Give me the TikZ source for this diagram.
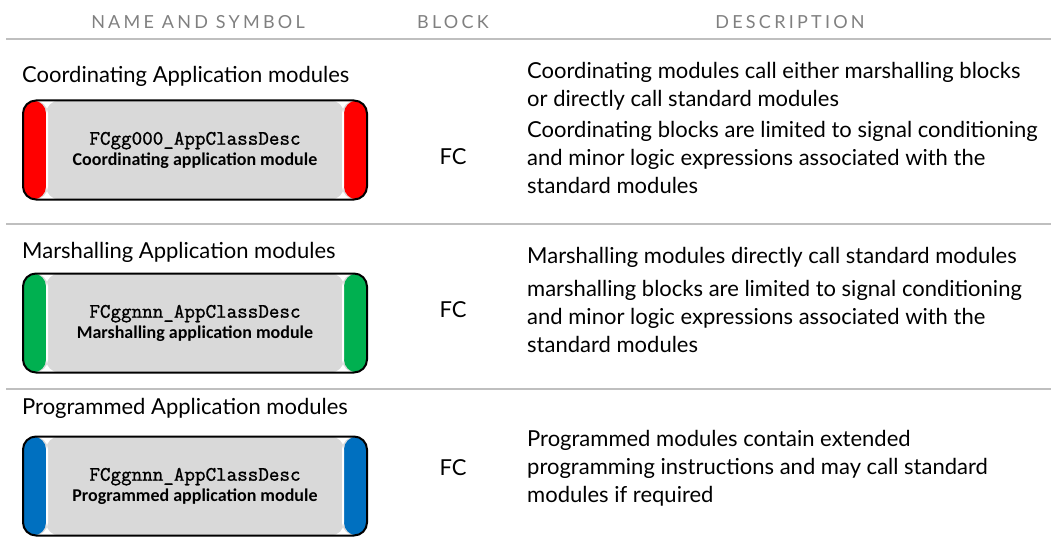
\documentclass[tikz,border=0pt]{standalone}
\usepackage{fontspec}
\setmainfont{Lato}
\newfontfamily\calibrifont{Carlito}
\newfontfamily\codefont[FakeBold=1.2]{Latin Modern Mono}
\definecolor{rulegray}{HTML}{BFBFBF}
\definecolor{headgray}{HTML}{808080}
\definecolor{boxgray}{HTML}{D9D9D9}
\definecolor{coordred}{HTML}{FF0000}
\definecolor{marshgreen}{HTML}{00B050}
\definecolor{proggblue}{HTML}{0070C0}
\newcommand{\modtext}[2]{{\fontsize{20.5}{22}\selectfont\codefont #1}\\[2pt]{\fontsize{18}{20}\selectfont\calibrifont\bfseries #2}}

\begin{document}
\begin{tikzpicture}[x=1pt, y=-1pt,
    head/.style={text=headgray, font=\fontsize{18}{20}\selectfont\addfontfeature{LetterSpace=18}},
    title/.style={anchor=west, inner sep=0pt, font=\fontsize{22}{28}\selectfont},
    desc/.style={anchor=west, inner sep=0pt, align=left, font=\fontsize{22}{28}\selectfont},
    blk/.style={inner sep=0pt, font=\fontsize{22}{28}\selectfont},
    sep/.style={draw=rulegray, line width=2.5pt},
    modbox/.style={draw, line width=2pt, rounded corners=13pt, fill=boxgray,
      minimum width=344pt, minimum height=99pt, align=center, inner sep=0pt,
      path picture={
        \fill[#1] (path picture bounding box.north west) rectangle ([xshift=23pt]path picture bounding box.south west);
        \fill[white] ([xshift=23pt]path picture bounding box.north west) rectangle ([xshift=25pt]path picture bounding box.south west);
        \fill[#1] (path picture bounding box.north east) rectangle ([xshift=-23pt]path picture bounding box.south east);
        \fill[white] ([xshift=-23pt]path picture bounding box.north east) rectangle ([xshift=-25pt]path picture bounding box.south east);
      }},
  ]
  \useasboundingbox (0,0) rectangle (1051,548);

  % column heads
  \node[head] (hname)  at (198,22) {NAME AND SYMBOL};
  \node[head] (hblock) at (453,22) {BLOCK};
  \node[head] (hdesc)  at (790,22) {DESCRIPTION};
  \draw[sep] (6,39) -- (1051,39);

  % coordinating
  \node[title] (t1) at (22,76) {Coordinating Application modules};
  \node[modbox=coordred] (m1) at (195,150) {\modtext{FCgg000\_AppClassDesc}{Coordinating application module}};
  \node[blk] (b1) at (453,157) {FC};
  \node[desc] (d1a) at (527,86) {Coordinating modules call either marshalling blocks\\or directly call standard modules};
  \node[desc] (d1b) at (527,157) {Coordinating blocks are limited to signal conditioning\\and minor logic expressions associated with the\\standard modules};
  \draw[sep] (6,224) -- (1051,224);

  % marshalling
  \node[title] (t2) at (22,252) {Marshalling Application modules};
  \node[modbox=marshgreen] (m2) at (195,323) {\modtext{FCggnnn\_AppClassDesc}{Marshalling application module}};
  \node[blk] (b2) at (453,310) {FC};
  \node[desc] (d2a) at (527,257) {Marshalling modules directly call standard modules};
  \node[desc] (d2b) at (527,316) {marshalling blocks are limited to signal conditioning\\and minor logic expressions associated with the\\standard modules};
  \draw[sep] (6,389) -- (1051,389);

  % programmed
  \node[title] (t3) at (22,408) {Programmed Application modules};
  \node[modbox=proggblue] (m3) at (195,486) {\modtext{FCggnnn\_AppClassDesc}{Programmed application module}};
  \node[blk] (b3) at (453,468) {FC};
  \node[desc] (d3) at (527,468) {Programmed modules contain extended\\programming instructions and may call standard\\modules if required};
\end{tikzpicture}
\end{document}
